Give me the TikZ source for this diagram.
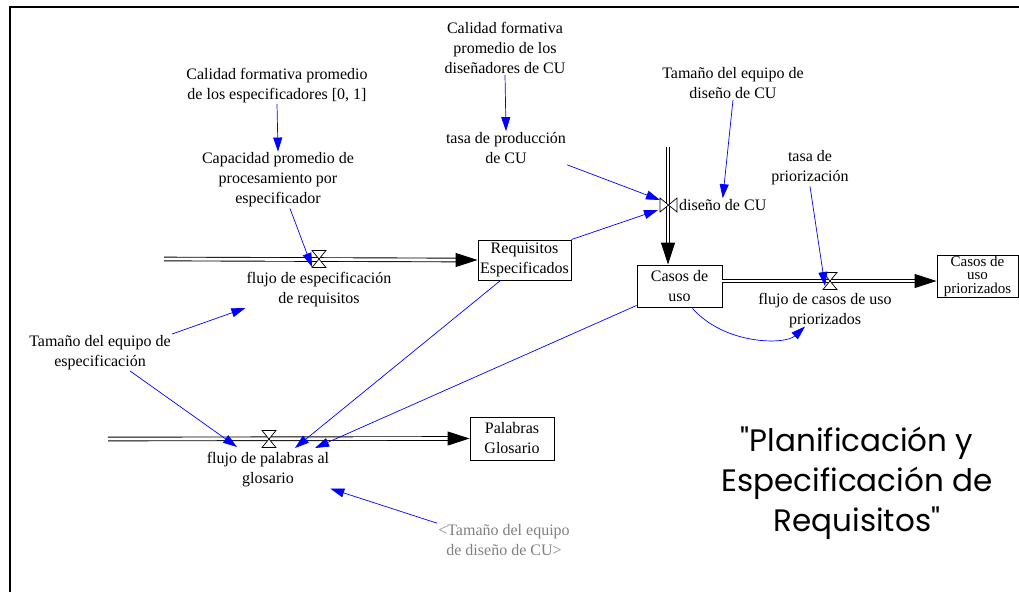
\documentclass[tikz,border=0pt]{standalone}
\usepackage{fontspec}
\setmainfont{Liberation Serif}
\newfontfamily\titlefont{Poppins}
\usetikzlibrary{arrows.meta}

\begin{document}
\begin{tikzpicture}[x=1pt,y=-1pt,
    lbl/.style={align=center,font=\fontsize{16}{20}\selectfont,inner sep=1pt},
    stock/.style={draw,line width=0.9pt,align=center,font=\fontsize{16}{20}\selectfont,inner sep=0pt},
    pipe/.style={double,double distance=2.8pt,line width=0.9pt},
    pipetip/.style={-{Triangle[length=22pt,width=14pt]},line width=0.9pt},
    valve/.style={draw,fill=white,line width=0.7pt},
    link/.style={blue,line width=0.7pt,-{Triangle[length=14pt,width=9pt]}}]
\useasboundingbox (0,0) rectangle (1019,592);
\draw[line width=2.2pt] (10,592) -- (10,7) -- (1019,7);

\node[lbl] (calEsp) at (277,85.5) {Calidad formativa promedio\\de los especificadores [0, 1]};
\node[lbl] (capProm) at (278,180) {Capacidad promedio de\\procesamiento por\\especificador};
\node[lbl] (flujoEsp) at (319,289.5) {flujo de especificación\\de requisitos};
\node[lbl] (tamEsp) at (100,352.5) {Tamaño del equipo de\\especificación};
\node[lbl] (calDis) at (505,48) {Calidad formativa\\promedio de los\\diseñadores de CU};
\node[lbl] (tasaProd) at (506,148) {tasa de producción\\de CU};
\node[lbl] (tamDis) at (733,83) {Tamaño del equipo de\\diseño de CU};
\node[lbl,anchor=west] (disCU) at (678,205) {diseño de CU};
\node[lbl] (tasaPrio) at (810,168) {tasa de\\priorización};
\node[lbl] (flujoCasos) at (825,310.5) {flujo de casos de uso\\priorizados};
\node[lbl] (flujoPal) at (268,470) {flujo de palabras al\\glosario};
\node[lbl,text=gray] (tamDisGris) at (504,540) {<Tamaño del equipo\\de diseño de CU>};

\node[stock,minimum width=93pt,minimum height=40pt] (req) at (524.5,260) {Requisitos\\Especificados};
\node[stock,minimum width=85pt,minimum height=42pt] (casos) at (679.5,286) {Casos de\\uso};
\node[stock,minimum width=81pt,minimum height=42pt,font=\fontsize{15}{13.5}\selectfont] (casosPrio) at (977.5,276) {Casos de\\uso\\priorizados};
\node[stock,minimum width=84pt,minimum height=43pt] (palabras) at (512,438.5) {Palabras\\Glosario};

\node[font=\titlefont\fontsize{31}{40}\selectfont,align=center] (titulo) at (857,483) {"Planificación y\\Especificación de\\Requisitos"};

\coordinate (vEsp) at (319,259);
\coordinate (vDis) at (668,205);
\coordinate (vCasos) at (830,281);
\coordinate (vPal) at (269,439);
\coordinate (srcEsp) at (164,259);
\coordinate (srcDis) at (668,147);
\coordinate (srcPal) at (108,439);
\coordinate (inCasos) at (vDis |- casos.north);
\coordinate (outCasos) at (casos.east |- vCasos);
\coordinate (inPrio) at (casosPrio.west |- vCasos);

\draw[pipe] (srcEsp) -- ([shift={(-20,0)}]req.west);
\draw[pipetip] ([shift={(-21,0)}]req.west) -- (req.west);
\draw[pipe] (srcDis) -- ([shift={(0,-20)}]inCasos);
\draw[pipetip] ([shift={(0,-21)}]inCasos) -- (inCasos);
\draw[pipe] (outCasos) -- ([shift={(-20,0)}]inPrio);
\draw[pipetip] ([shift={(-21,0)}]inPrio) -- (inPrio);
\draw[pipe] (srcPal) -- ([shift={(-20,0)}]palabras.west);
\draw[pipetip] ([shift={(-21,0)}]palabras.west) -- (palabras.west);

\foreach \v in {vEsp,vCasos,vPal}
  \draw[valve] ([shift={(-7,-8.5)}]\v) -- ++(14,0) -- ++(-14,17) -- ++(14,0) -- cycle;
\draw[valve] ([shift={(-8,-7)}]vDis) -- ++(0,14) -- ++(17,-14) -- ++(0,14) -- cycle;

\draw[link] (calEsp.south) -- (capProm.north);
\draw[link] ([shift={(12,0)}]capProm.south) -- ([shift={(-7,8)}]vEsp);
\draw[link] (tamEsp.north east) -- (flujoEsp.south west);
\draw[link] ([shift={(30,0)}]tamEsp.south) -- ([shift={(-32,8)}]vPal);
\draw[link] ([shift={(23,0)}]req.south west) -- ([shift={(26,9)}]vPal);
\draw[link] ([shift={(0,-2)}]casos.south west) -- ([shift={(46,9)}]vPal);
\draw[link] (tamDisGris.north west) -- (flujoPal.south east);
\draw[link] (calDis.south) -- (tasaProd.north);
\draw[link] (tasaProd.south east) -- ([shift={(-8,-5)}]vDis);
\draw[link] (req.north east) -- ([shift={(-10,5)}]vDis);
\draw[link] (tamDis.south) -- (disCU.north);
\draw[link] (tasaPrio.south) -- ([shift={(-5,5)}]vCasos);
\draw[link] ([shift={(13,1)}]casos.south) .. controls (725,345) and (785,345) .. ([shift={(-20,16)}]flujoCasos.center);
\end{tikzpicture}
\end{document}
